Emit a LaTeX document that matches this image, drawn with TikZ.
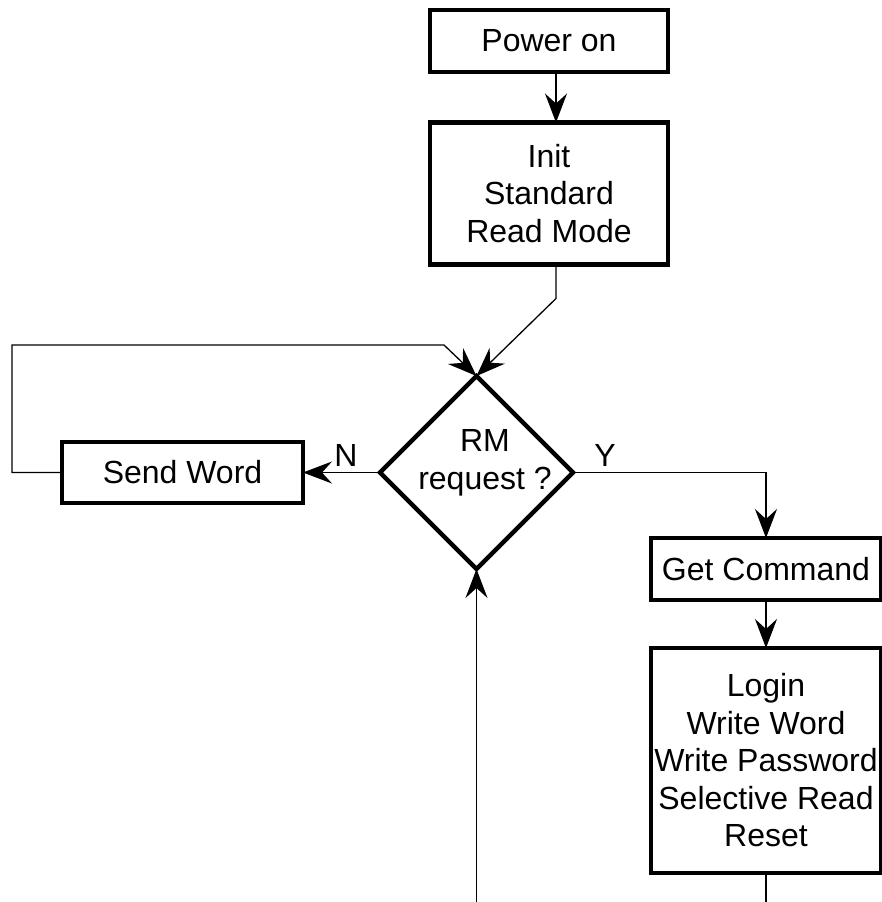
\documentclass[tikz,border=0pt]{standalone}
\usepackage{fontspec}
\setmainfont{Liberation Sans}
\usetikzlibrary{arrows.meta,shapes.geometric}

\begin{document}
\begin{tikzpicture}[x=0.5pt,y=-0.5pt,
  every node/.style={font=\fontsize{16pt}{18.75pt}\selectfont, align=center, outer sep=0pt},
  box/.style={draw, line width=2.2pt, inner sep=0pt},
  link/.style={line width=0.65pt, -{Stealth[length=14.5pt,width=11pt,inset=5pt]}},
  wire/.style={line width=0.65pt}]
\useasboundingbox (0,0) rectangle (882,902);

\node[box, minimum width=119pt, minimum height=31pt] (power) at (549,41) {Power on};
\node[box, minimum width=119pt, minimum height=71pt] (init) at (549,193.5) {Init\\Standard\\Read Mode};
\node[draw, diamond, line width=2.2pt, minimum size=96.5pt, inner sep=0pt] (dia) at (476.5,472.5) {};
\node (ask) at (485,463) {RM\\request ?};
\node[box, minimum width=120.5pt, minimum height=30.5pt] (send) at (182.5,472.5) {Send Word};
\node[box, minimum width=115pt, minimum height=31pt] (getcmd) at (766,569) {Get Command};
\node[box, minimum width=115pt, minimum height=112.5pt] (login) at (766,760.5) {Login\\Write Word\\Write Password\\Selective Read\\Reset};
\node (no) at (346,455) {N};
\node (yes) at (605,455) {Y};

\coordinate (loopleft) at (12,472.5);
\coordinate (looptop) at (444,345);
\coordinate (bottom) at (476.5,902);
\coordinate (loginend) at (766,902);

\draw[link] ([xshift=3.5pt]power.south) -- ([xshift=3.5pt]init.north);
\draw[link] ([xshift=3.5pt]init.south) -- ++(0,34) -- (dia.north);
\draw[link] (dia.west) -- (send.east);
\draw[link] (send.west) -- (loopleft) |- (looptop) -- (dia.north);
\draw[link] (dia.east) -| (getcmd.north);
\draw[link] (getcmd.south) -- (login.north);
\draw[wire] (login.south) -- (loginend);
\draw[link] (bottom) -- (dia.south);
\end{tikzpicture}
\end{document}
